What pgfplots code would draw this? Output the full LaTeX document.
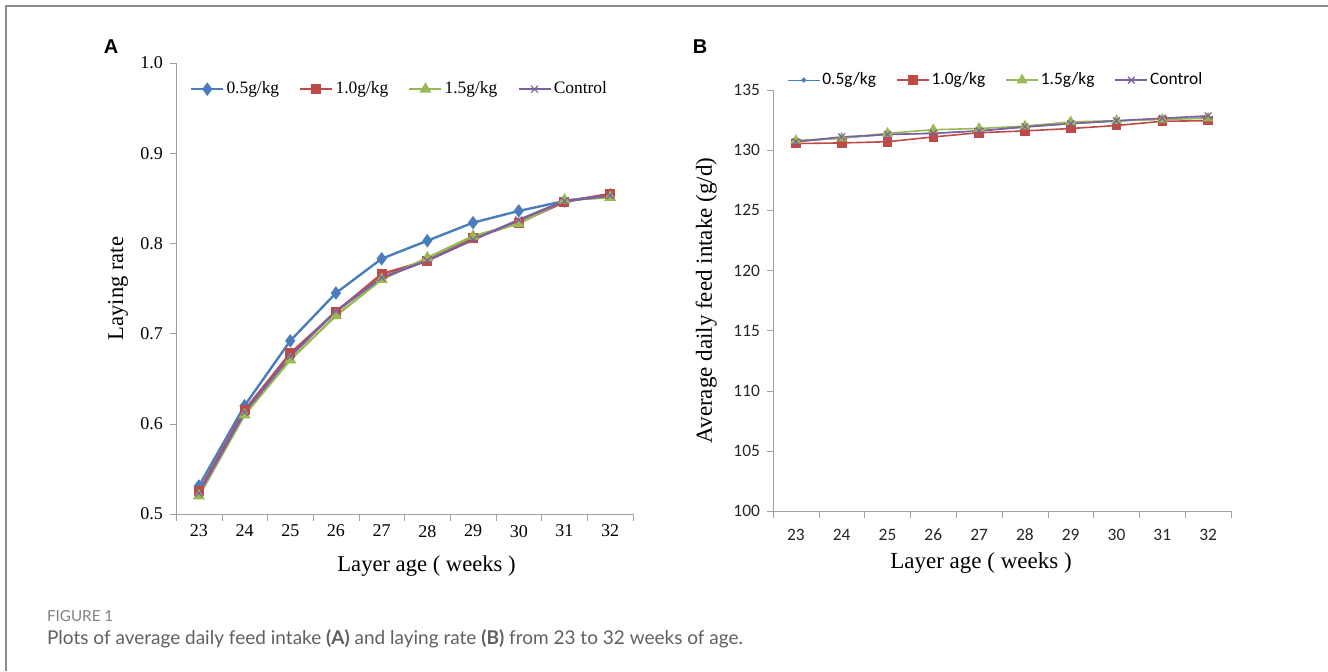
\documentclass[border=0pt]{standalone}
\usepackage{fontspec}
\setmainfont{Liberation Serif}
\newfontfamily\calfont{Carlito}
\newfontfamily\arialfont{Liberation Sans}
\newfontfamily\capfont{Lato}
\usepackage{pgfplots}
\usepackage{pgfplotstable}
\pgfplotsset{compat=1.18}

\definecolor{cblue}{HTML}{4A7EBB}
\definecolor{cred}{HTML}{BE4B48}
\definecolor{cgreen}{HTML}{98B954}
\definecolor{cpurple}{HTML}{7D60A0}
\definecolor{axgray}{HTML}{A0A0A0}
\definecolor{framegray}{HTML}{8C8C8C}
\definecolor{capgray}{HTML}{606060}

% laying rate (panel A)
\pgfplotstableread{
wk   p05   p10   p15   ctrl
23 0.531 0.525 0.520 0.523
24 0.620 0.615 0.610 0.613
25 0.692 0.678 0.671 0.675
26 0.745 0.724 0.720 0.725
27 0.783 0.766 0.760 0.762
28 0.803 0.781 0.784 0.781
29 0.823 0.806 0.808 0.804
30 0.836 0.823 0.822 0.826
31 0.847 0.846 0.848 0.847
32 0.854 0.855 0.851 0.853
}\layrate

% feed intake (panel B)
\pgfplotstableread{
wk   p05    p10    p15    ctrl
23 130.70 130.55 130.80 130.70
24 131.00 130.60 131.00 131.10
25 131.30 130.70 131.40 131.30
26 131.40 131.10 131.70 131.40
27 131.60 131.45 131.80 131.60
28 131.90 131.60 132.00 131.95
29 132.20 131.80 132.35 132.20
30 132.40 132.05 132.45 132.45
31 132.60 132.40 132.55 132.65
32 132.70 132.45 132.65 132.85
}\feed

\pgfplotsset{
  xlsstyle/.style={
    scale only axis,
    axis x line*=bottom, axis y line*=left,
    axis line style={axgray},
    xmin=22.5, xmax=32.5,
    xtick={23,...,32},
    minor xtick={22.5,23.5,...,32.5},
    major x tick style={draw=none},
    minor x tick style={axgray},
    y tick style={axgray},
    minor tick length=3.5pt, major tick length=3pt,
    tick align=outside,
    /pgf/number format/assume math mode=true,
    legend columns=4,
    legend cell align=left,
    legend style={draw=none, fill=none, inner sep=0pt,
      nodes={inner sep=1pt},
      /tikz/every even column/.append style={column sep=9pt}},
    legend image code/.code={\draw[mark repeat=2,mark phase=2]
      plot coordinates {(0pt,0pt) (8pt,0pt) (16pt,0pt)};},
  }
}

\begin{document}
\begin{tikzpicture}
\path[use as bounding box] (0,0) rectangle (664pt,-335.5pt);
\draw[framegray, line width=1pt] (3pt,-335.5pt) -- (3pt,-3pt) -- (664pt,-3pt);

\node[font=\arialfont\bfseries\fontsize{10}{12}\selectfont] at (55.5pt,-23.5pt) {A};
\node[font=\arialfont\bfseries\fontsize{10}{12}\selectfont] at (350pt,-23.5pt) {B};

% panel A
\begin{axis}[xlsstyle,
  at={(88pt,-257pt)}, anchor=south west,
  width=228.5pt, height=225.5pt,
  ymin=0.5, ymax=1.0, ytick={0.5,0.6,...,1.0},
  yticklabel style={/pgf/number format/.cd, fixed, fixed zerofill, precision=1},
  ticklabel style={font=\fontsize{9}{10}\selectfont},
  xticklabel style={yshift=1pt},
  ylabel={Laying rate}, xlabel={Layer age ( weeks )},
  label style={font=\fontsize{11.3}{13}\selectfont},
  ylabel style={at={(axis description cs:-0.127,0.5)}, anchor=center},
  xlabel style={at={(axis description cs:0.5,0)}, anchor=center, yshift=-26pt, xshift=11pt},
  legend style={font=\fontsize{8.7}{10}\selectfont, at={(rel axis cs:0.03,0.942)}, anchor=west},
  every axis plot/.append style={line width=1.2pt},
]
\addplot[cblue, mark=diamond*, mark size=2.4pt] table[x=wk,y=p05]{\layrate};
\addlegendentry{0.5g/kg}
\addplot[cred, mark=square*, mark size=1.9pt] table[x=wk,y=p10]{\layrate};
\addlegendentry{1.0g/kg}
\addplot[cgreen, mark=triangle*, mark size=2.3pt] table[x=wk,y=p15]{\layrate};
\addlegendentry{1.5g/kg}
\addplot[cpurple, mark=x, mark size=2.4pt, mark options={line width=0.6pt}] table[x=wk,y=ctrl]{\layrate};
\addlegendentry{Control}
\end{axis}

% panel B
\begin{axis}[xlsstyle,
  at={(386.5pt,-255.5pt)}, anchor=south west,
  width=229pt, height=210.5pt,
  ymin=100, ymax=135, ytick={100,105,...,135},
  ticklabel style={font=\calfont\fontsize{8.7}{10}\selectfont, text=black!85},
  xticklabel style={yshift=-2.5pt},
  ylabel={Average daily feed intake (g/d)}, xlabel={Layer age ( weeks )},
  label style={font=\fontsize{11.5}{13}\selectfont},
  ylabel style={at={(axis description cs:-0.146,0.5)}, anchor=center},
  xlabel style={at={(axis description cs:0.5,0)}, anchor=center, yshift=-26pt, xshift=-10.5pt},
  legend style={font=\calfont\fontsize{8.7}{10}\selectfont, at={(rel axis cs:0.03,1.0235)}, anchor=west},
  every axis plot/.append style={line width=0.8pt},
]
\addplot[cblue, line width=0.6pt, mark=*, mark size=0.9pt] table[x=wk,y=p05]{\feed};
\addlegendentry{0.5g/kg}
\addplot[cred, mark=square*, mark size=2pt] table[x=wk,y=p10]{\feed};
\addlegendentry{1.0g/kg}
\addplot[cgreen, mark=triangle*, mark size=2.4pt] table[x=wk,y=p15]{\feed};
\addlegendentry{1.5g/kg}
\addplot[cpurple, mark=x, mark size=2.4pt, mark options={line width=0.6pt}] table[x=wk,y=ctrl]{\feed};
\addlegendentry{Control}
\end{axis}

\node[anchor=base west, text=capgray!80, font=\capfont\fontsize{7.6}{9}\selectfont] at (20pt,-310.5pt) {FIGURE 1};
\node[anchor=base west, text=capgray, font=\capfont\fontsize{9.5}{11}\selectfont] at (20pt,-322pt)
  {Plots of average daily feed intake \textbf{(A)} and laying rate \textbf{(B)} from 23 to 32 weeks of age.};
\end{tikzpicture}
\end{document}
